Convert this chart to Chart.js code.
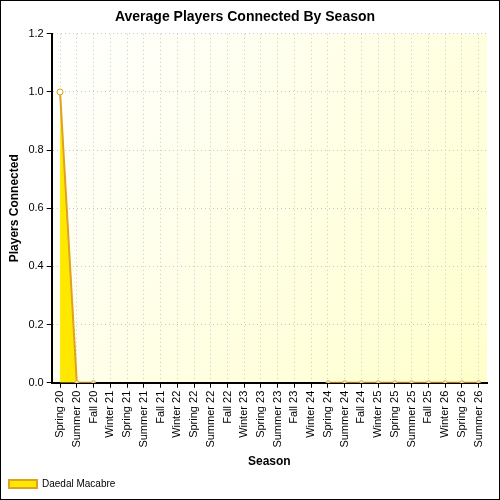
<!DOCTYPE html>
<html><head><meta charset="utf-8">
<script src="https://cdn.jsdelivr.net/npm/chart.js@4"></script>
<style>html,body{margin:0;padding:0;background:#fff}#w{width:498px;height:498px;border:1px solid #000;}</style>
</head><body><div id="w"><canvas id="c" width="498" height="498"></canvas></div>
<script>
const categories=["Spring 20","Summer 20","Fall 20","Winter 21","Spring 21","Summer 21","Fall 21","Winter 22","Spring 22","Summer 22","Fall 22","Winter 23","Spring 23","Summer 23","Fall 23","Winter 24","Spring 24","Summer 24","Fall 24","Winter 25","Spring 25","Summer 25","Fall 25","Winter 26","Spring 26","Summer 26"];
const players=[1,0,0,null,null,null,null,null,null,null,null,null,null,null,null,null,0,0,0,0,0,0,0,0,0,0];
const seriesName="Daedal Macabre";
const bgPlugin={id:'bg',beforeDraw(ch){const a=ch.chartArea,x=ch.ctx;const g=x.createLinearGradient(a.left,a.top,a.right,a.bottom);g.addColorStop(0,'#ffffff');g.addColorStop(1,'#ffffcc');x.save();x.fillStyle=g;x.fillRect(a.left,a.top,a.right-a.left,a.bottom-a.top);x.restore();}};
new Chart(document.getElementById('c'),{type:'line',
data:{labels:categories,datasets:[{label:seriesName,data:players,borderColor:'#e0a020',backgroundColor:'#ffe800',fill:'origin',borderWidth:2,tension:0,spanGaps:false,pointRadius:[3,2,2,0,0,0,0,0,0,0,0,0,0,0,0,0,2,2,2,2,2,2,2,2,2,2],pointBackgroundColor:'#fff',pointBorderColor:'#e0a020',pointBorderWidth:1}]},
options:{responsive:false,animation:false,layout:{padding:{right:12,left:2}},
plugins:{title:{display:true,text:'Average Players Connected By Season',font:{family:'Liberation Sans',size:14,weight:'bold'},color:'#000',padding:{top:8,bottom:8}},
legend:{position:'bottom',align:'start',labels:{font:{family:'Liberation Sans',size:10},color:'#000',boxWidth:28,boxHeight:8,padding:6},},tooltip:{enabled:false}},
scales:{x:{offset:true,grid:{offset:false,color:'#c8c8c8',drawTicks:true,tickColor:'#000',tickLength:5},border:{color:'#000',width:2,dash:[1,3]},ticks:{color:'#000',font:{family:'Liberation Sans',size:11},maxRotation:90,minRotation:90,autoSkip:false},title:{display:true,text:'Season',font:{family:'Liberation Sans',size:12,weight:'bold'},color:'#000'}},
y:{min:0,max:1.2,grid:{color:'#c8c8c8',tickColor:'#000',tickLength:5},border:{color:'#000',width:2,dash:[1,3]},ticks:{stepSize:0.2,color:'#000',font:{family:'Liberation Sans',size:11},callback:v=>v.toFixed(1)},title:{display:true,text:'Players Connected',font:{family:'Liberation Sans',size:12,weight:'bold'},color:'#000'}}}},
plugins:[bgPlugin]});
</script></body></html>
